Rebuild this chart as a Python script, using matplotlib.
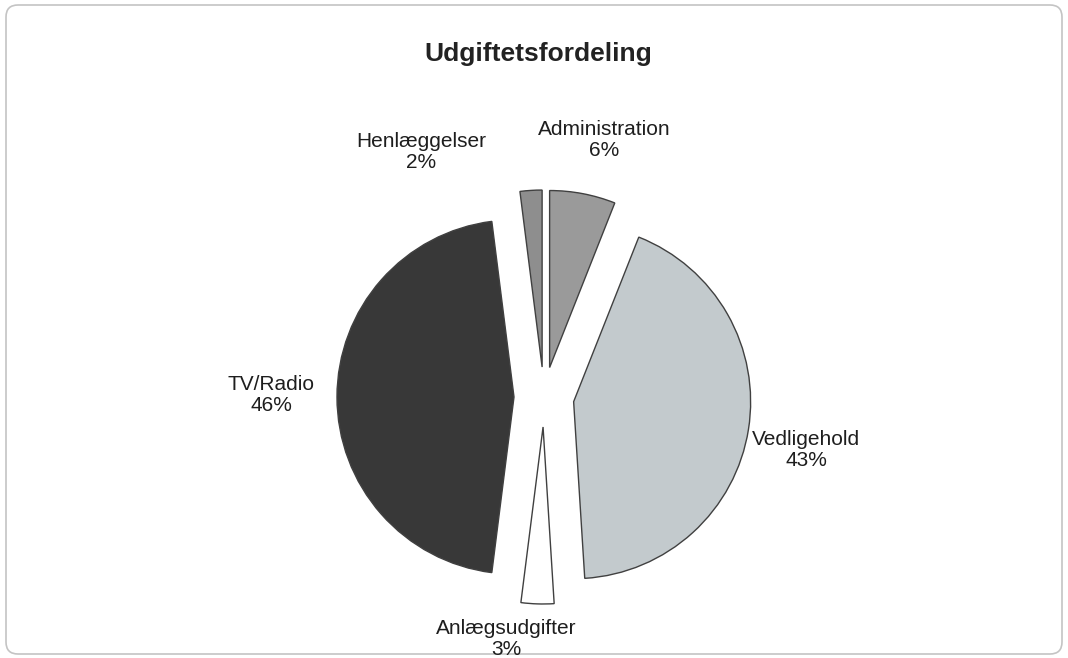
import matplotlib.pyplot as plt
from matplotlib.patches import FancyBboxPatch

# Expense distribution (percent), clockwise from 12 o'clock
categories = ['Administration', 'Vedligehold', 'Anlægsudgifter', 'TV/Radio', 'Henlæggelser']
shares = [6, 43, 3, 46, 2]
colors = ['#9a9a9a', '#c3cacd', '#ffffff', '#383838', '#8e8e8e']

# label anchor points in pixels (x, y from top)
label_pos = [(604, 140), (806, 450), (506, 639), (271, 395), (421, 152)]

plt.rcParams['font.family'] = ['Liberation Sans', 'DejaVu Sans']

W, H = 1068, 658
fig = plt.figure(figsize=(W / 100, H / 100), dpi=100)
ax = fig.add_axes([0, 0, 1, 1])

radius = 177
# explode is in data units here (pixels), pie doesn't scale it by radius
ax.pie(shares, colors=colors, startangle=90, counterclock=False,
       explode=[30] * len(shares), radius=radius, center=(544, H - 397),
       wedgeprops=dict(edgecolor='#404040', linewidth=1.0), frame=True)
ax.set_xlim(0, W)
ax.set_ylim(0, H)
ax.set_aspect('equal')
ax.axis('off')

for name, val, (x, y) in zip(categories, shares, label_pos):
    ax.text(x, H - y, f'{name}\n{val}%', ha='center', va='center',
            fontsize=15, color='#1e1e1e', linespacing=1.1)

ax.text(538, H - 54, 'Udgiftetsfordeling', ha='center', va='center',
        fontsize=19, fontweight='bold', color='#222222')

# frame around the chart
frame = FancyBboxPatch((6, 4), W - 12, H - 9, boxstyle='round,pad=0,rounding_size=12',
                       fill=False, edgecolor='#c4c4c4', linewidth=1.2)
ax.add_patch(frame)

fig.savefig('out.png', dpi=100, facecolor='white')
